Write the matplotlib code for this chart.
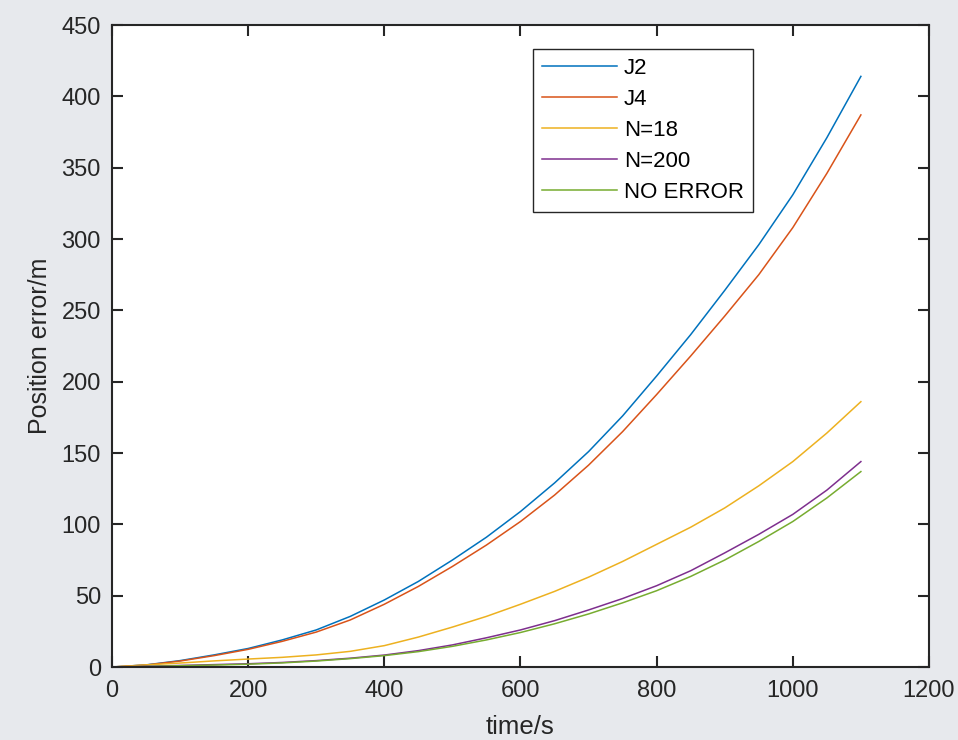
import numpy as np
import matplotlib
matplotlib.use('Agg')
import matplotlib.pyplot as plt

plt.rcParams['font.family'] = ['Liberation Sans', 'DejaVu Sans']

# time axis (s) and position errors (m)
t = [0, 50, 100, 150, 200, 250, 300, 350, 400, 450, 500, 550,
     600, 650, 700, 750, 800, 850, 900, 950, 1000, 1050, 1100]

j2 = [0, 1.5, 4.5, 8.5, 13, 19, 26, 35.5, 47, 60, 75, 91,
      109, 129, 151, 176, 204, 233, 264, 296, 331, 371, 414]
j4 = [0, 1.4, 4.2, 8, 12.4, 18, 24.5, 33, 44, 56.5, 70.5, 85.5,
      102, 120.5, 141.5, 165, 191, 218, 246, 275, 308, 346, 387]
n18 = [0, 1.5, 2.8, 4.3, 5.6, 6.8, 8.5, 11, 15, 21, 28, 35.5,
       44, 53, 63, 74, 86, 98, 111.5, 127, 144, 164, 186]
n200 = [0, 0.5, 1.1, 1.7, 2.3, 3.2, 4.5, 6.2, 8.4, 11.5, 15.5, 20.5,
        26, 32.5, 40, 48, 57, 67.5, 80, 93, 107, 124, 144]
no_err = [0, 0.4, 0.9, 1.4, 2, 2.9, 4.2, 5.9, 8, 10.8, 14.5, 19,
          24.2, 30.3, 37.2, 45, 53.5, 63.5, 75, 88, 102, 118.5, 137]

labels = ['J2', 'J4', 'N=18', 'N=200', 'NO ERROR']
colors = ['#0072BD', '#D95319', '#EDB120', '#7E2F8E', '#77AC30']

fig = plt.figure(figsize=(9.58, 7.40), dpi=100)
fig.patch.set_facecolor('#e7e9ed')
ax = fig.add_axes([0.1169, 0.0986, 0.8528, 0.8676])
ax.set_facecolor('white')

for yy, lab, col in zip([j2, j4, n18, n200, no_err], labels, colors):
    ax.plot(t, yy, color=col, lw=1.1, label=lab)

ax.set_xlim(0, 1200)
ax.set_ylim(0, 450)
ax.set_xticks(np.arange(0, 1201, 200))
ax.set_yticks(np.arange(0, 451, 50))

dark = '#262626'
for sp in ax.spines.values():
    sp.set_color(dark)
    sp.set_linewidth(1.5)
ax.tick_params(direction='in', length=8, width=1.5, colors=dark,
               labelsize=17, top=True, right=True, pad=8)
ax.tick_params(axis='x', pad=9)
ax.set_xlabel('time/s', fontsize=18.5, color=dark, labelpad=10)
ax.set_ylabel('Position error/m', fontsize=18, color=dark, labelpad=7)

leg = ax.legend(loc='upper left', bbox_to_anchor=(0.515, 0.963),
                fontsize=16, handlelength=3.4, labelspacing=0.45,
                handletextpad=0.3, borderpad=0.4, borderaxespad=0,
                fancybox=False, framealpha=1, edgecolor=dark)
leg.get_frame().set_linewidth(1.0)

fig.savefig('out.png', dpi=100, facecolor=fig.get_facecolor())
